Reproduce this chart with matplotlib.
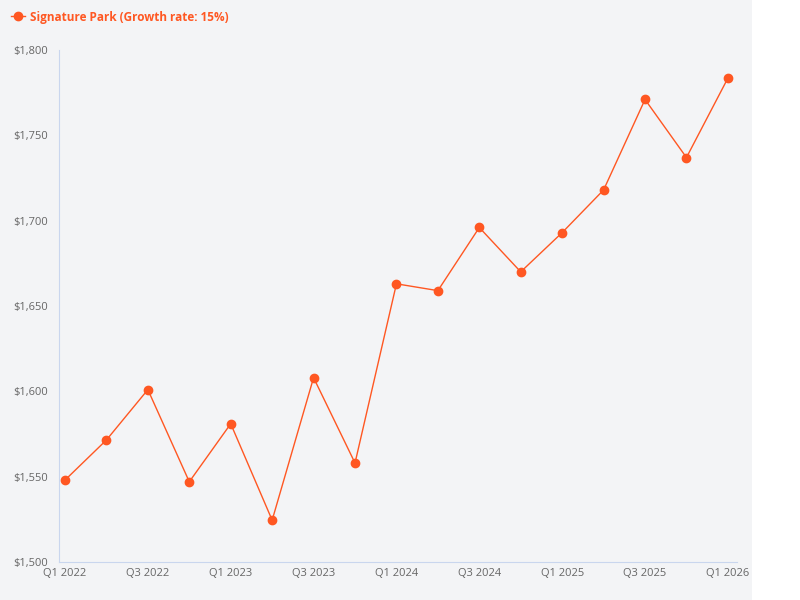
import matplotlib
matplotlib.use("Agg")
import matplotlib.pyplot as plt
from matplotlib.patches import Rectangle
from matplotlib.ticker import FuncFormatter

plt.rcParams['font.family'] = ['Open Sans', 'DejaVu Sans']

quarters = ["Q1 2022","Q2 2022","Q3 2022","Q4 2022","Q1 2023","Q2 2023","Q3 2023","Q4 2023",
            "Q1 2024","Q2 2024","Q3 2024","Q4 2024","Q1 2025","Q2 2025","Q3 2025","Q4 2025","Q1 2026"]
values = [1548, 1571.5, 1601, 1547, 1581, 1524.5, 1608, 1558,
          1663, 1659, 1696, 1670, 1693, 1718, 1771, 1737, 1783.5]
series_name = "Signature Park (Growth rate: 15%)"
color = "#FF5722"

fig = plt.figure(figsize=(8, 6), dpi=100)
fig.patch.set_facecolor("white")
fig.add_artist(Rectangle((0, 0), 752/800, 1, transform=fig.transFigure, facecolor="#F3F4F6", edgecolor="none", zorder=-10))

ax = fig.add_axes([59/800, 1-562/600, (737-59)/800, (562-50)/600])
ax.set_facecolor("none")
x = list(range(len(values)))
ax.plot(x, values, color=color, lw=1, marker="o", ms=6, label=series_name)
ax.set_xlim(-0.145, 16.22)
ax.set_ylim(1500, 1800)
ax.set_yticks([1500, 1550, 1600, 1650, 1700, 1750, 1800])
ax.yaxis.set_major_formatter(FuncFormatter(lambda v, p: f"${v:,.0f}"))
ax.set_xticks(x[::2])
ax.set_xticklabels(quarters[::2])
for s in ["top", "right"]:
    ax.spines[s].set_visible(False)
for s in ["left", "bottom"]:
    ax.spines[s].set_color("#C9D6EE")
ax.tick_params(length=0, colors="#666666", labelsize=8)
ax.tick_params(axis="y", pad=8)
ax.tick_params(axis="x", pad=4)

leg = fig.legend(loc="upper left", bbox_to_anchor=(0.0, 1.0), frameon=False,
                 handlelength=1.2, handletextpad=0.4, prop={"weight": "bold", "size": 8.5})
for t in leg.get_texts():
    t.set_color(color)

fig.savefig("out.png", dpi=100)
